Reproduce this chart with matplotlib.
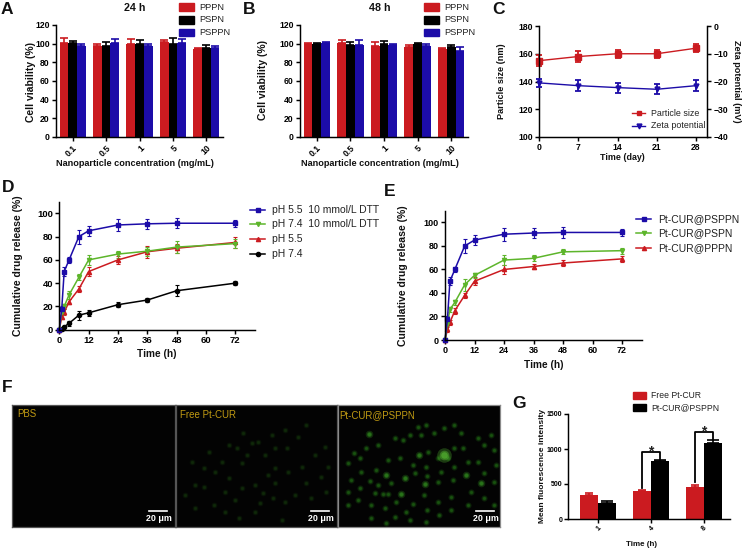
import matplotlib
matplotlib.use("Agg")
import matplotlib.pyplot as plt
import numpy as np

plt.rcParams['font.family'] = ['Liberation Sans', 'DejaVu Sans']
W, H = 742, 550
fig = plt.figure(figsize=(W/100, H/100), dpi=100)
RED, BLACK, BLUE, GREEN = '#CB1B20', '#000000', '#1C0CA8', '#5DB52B'
INK = '#222222'

conc = ['0.1', '0.5', '1', '5', '10']
bar_names = ['PPPN', 'PSPN', 'PSPPN']
a_vals = [[100.5, 97, 100, 101.5, 94.5], [100.5, 98, 100, 100, 95.5], [97, 101, 97, 101, 95]]
a_errs = [[6, 3, 5.5, 2, 1], [2.5, 4, 3.5, 6, 3.5], [2.5, 4.5, 2.5, 4, 2.5]]
b_vals = [[99.5, 101, 98, 96.5, 94.5], [99.5, 98.5, 100, 99.5, 96], [100.5, 98.5, 99, 97.5, 92]]
b_errs = [[0.8, 2.5, 3.5, 2, 1], [1, 3.5, 2.5, 1.5, 2.5], [1, 5, 0.5, 2.5, 4]]

days = [0, 7, 14, 21, 28]
size_vals = [155, 158, 160, 160, 164]
size_errs = [4, 4, 3, 3, 3]
zeta_vals = [-20.5, -21.5, -22.2, -22.8, -21.5]
zeta_errs = [1.5, 2, 1.8, 1.8, 2]

t_hours = [0, 1, 2, 4, 8, 12, 24, 36, 48, 72]
t_ticks = [0, 12, 24, 36, 48, 60, 72]
d_labels = ['pH 5.5  10 mmol/L DTT', 'pH 7.4  10 mmol/L DTT', 'pH 5.5', 'pH 7.4']
d_b = [0, 18, 50, 60, 80, 85, 90, 91, 91.5, 91.5]
d_b_e = [0, 2, 3.5, 2.5, 6, 4.5, 5.5, 4.5, 4.5, 3]
d_g = [0, 15, 20, 30, 45, 60, 65, 67.5, 71, 74]
d_g_e = [0, 2, 2.5, 3.5, 2.5, 4.5, 3, 4, 5.5, 4]
d_r = [0, 11, 15, 24, 35, 50, 60, 67, 70, 75]
d_r_e = [0, 2, 2.5, 2, 2.5, 4, 3.5, 5, 4, 5]
d_k = [0, 0.5, 2.5, 5.5, 12.5, 14.5, 21.5, 25.5, 33.5, 40]
d_k_e = [0, 0.5, 1, 2, 4, 2.5, 2, 2, 4.5, 2]

e_labels = ['Pt-CUR@PSPPN', 'Pt-CUR@PSPN', 'Pt-CUR@PPPN']
e_b = [0, 18, 50, 60, 80, 85, 90, 91, 91.5, 91.5]
e_b_e = [0, 2, 3.5, 2.5, 6, 4.5, 5.5, 4.5, 4.5, 3]
e_g = [0, 14, 26, 32, 47, 55, 68, 69.5, 75, 76]
e_g_e = [0, 2, 2, 2, 5, 2, 4, 2.5, 2, 2.5]
e_r = [0, 9, 15, 25, 38, 50, 60, 62.5, 65.5, 69]
e_r_e = [0, 2, 2, 2.5, 2, 3.5, 3.5, 2.5, 2.5, 2.5]

g_times = ['1', '4', '8']
g_labels = ['Free Pt-CUR', 'Pt-CUR@PSPPN']
g_free = [340, 405, 460]
g_free_e = [35, 15, 22]
g_conj = [235, 825, 1085]
g_conj_e = [22, 25, 40]
g_brackets = [(None, None), (443, 961), (533, 1243)]

f_names = ['PBS', 'Free Pt-CUR', 'Pt-CUR@PSPPN']
f2_x = [180,250,230,270,300,368,335,280,300,200,215,185,85,240,265,255,320,295,330,395,460,440,420,450,380,340,300,160,120,85,60,115,150,190,240,360,410,455,290,330,395,140,100,160,205,50,30,60,200,150]
f2_y = [285,110,115,150,130,95,130,210,235,175,150,130,245,240,265,295,345,280,290,235,185,215,150,125,185,200,190,220,200,190,240,300,320,340,320,270,280,260,90,75,60,170,140,120,85,170,270,310,250,260]
f3_x = [48,65,270,300,330,350,375,470,440,345,300,268,230,150,135,110,225,268,205,175,95,65,40,70,115,150,185,170,120,85,30,240,265,290,320,350,370,420,460,475,420,390,350,310,265,225,440,470,400,340,300,260,250,215,195,160,120,60,100,140,170,215,265,305,340,390,440,470,145,100,30,30]
f3_y = [145,160,140,160,158,130,130,135,120,225,230,212,205,268,268,265,298,315,320,290,228,250,225,200,195,165,160,100,120,130,175,65,60,85,70,60,85,100,90,180,170,170,185,200,185,180,205,230,260,275,290,270,90,90,105,235,240,285,300,310,335,345,350,330,315,300,280,300,355,340,300,260]
f3_bright_x = [145,385,262,190,92,245,430,200]
f3_bright_y = [210,210,237,268,88,150,235,220]
f3_blob_x = [318]
f3_blob_y = [150]

def ax_px(x0, x1, ytop, ybot):
    ax = fig.add_axes([x0/W, 1-ybot/H, (x1-x0)/W, (ybot-ytop)/H])
    ax.patch.set_alpha(0)
    for s in ['top', 'right']:
        ax.spines[s].set_visible(False)
    for s in ['left', 'bottom']:
        ax.spines[s].set_linewidth(1.05)
    ax.tick_params(width=1.05, length=3, labelsize=6.2, pad=1.5)
    return ax

def bold_ticks(ax):
    for t in ax.get_xticklabels() + ax.get_yticklabels():
        t.set_fontweight('bold')

def px_text(x, y, s, **kw):
    kw.setdefault('ha', 'left'); kw.setdefault('va', 'center')
    fig.text(x/W, 1-y/H, s, **kw)

def px_label(x, y, s, size, rotation=0):
    px_text(x, y, s, fontsize=size, fontweight='bold', ha='center', rotation=rotation,
            rotation_mode='anchor', color='#111111')

def px_legend_patch(x0, x1, yc, h, color):
    fig.add_artist(plt.Rectangle((x0/W, 1-(yc+h/2)/H), (x1-x0)/W, h/H, color=color, transform=fig.transFigure))

def bars(x0, x1, vals, errs, title_x, leg_x, name, ylab_x, ylab_y):
    ax = ax_px(x0, x1, 25, 137)
    bw = 8.7 / 33.4
    for i, (v, e, c) in enumerate(zip(vals, errs, [RED, BLACK, BLUE])):
        xs = np.arange(5) + (i-1)*bw
        ax.bar(xs, v, bw, color=c, zorder=2)
        ax.errorbar(xs, v, yerr=[np.zeros(5), e], fmt='none', ecolor=c, elinewidth=1.2, capsize=2.6, capthick=1.2, zorder=2)
    ax.set_xlim(-0.5, 4.5)
    ax.set_ylim(0, 120)
    ax.set_yticks(range(0, 121, 20))
    ax.set_xticks(range(5))
    ax.set_xticklabels(conc, rotation=45, ha='right', rotation_mode='anchor')
    ax.tick_params(axis='x', pad=1.5)
    bold_ticks(ax)
    px_label(ylab_x, ylab_y, 'Cell viability (%)', 7.5, 90)
    px_label(title_x, 164, 'Nanoparticle concentration (mg/mL)', 6.6)
    px_label(title_x, 8, name, 7.7)
    for lab, c, y in zip(bar_names, [RED, BLACK, BLUE], [7, 20, 32.5]):
        px_legend_patch(leg_x, leg_x+14.5, y, 7.5, c)
        px_text(leg_x+20, y, lab, fontsize=6.7, color=INK)
    return ax

bars(56, 223, a_vals, a_errs, 135, 179, '24 h', 31, 81.7)
bars(300, 468, b_vals, b_errs, 380, 424, '48 h', 262.7, 80.3)

# C
ax = ax_px(539, 707, 26, 137)
ax.errorbar(days, size_vals, yerr=size_errs, color=RED, marker='s', ms=4, lw=1, capsize=2.5, elinewidth=1.3, capthick=1.3, clip_on=False)
ax.set_xlim(0, 28*168/157)
ax.set_ylim(100, 180)
ax.set_xticks(days)
ax.set_yticks(range(100, 181, 20))
bold_ticks(ax)
px_label(622.7, 157.7, 'Time (day)', 6.4)
px_label(501.7, 81, 'Particle size (nm)', 6.6, 90)
ax2 = ax.twinx()
ax2.patch.set_alpha(0)
for s in ['top', 'left', 'bottom']:
    ax2.spines[s].set_visible(False)
ax2.spines['right'].set_linewidth(1.05)
ax2.errorbar(days, zeta_vals, yerr=zeta_errs, color=BLUE, marker='v', ms=3.5, lw=1, capsize=2.5, elinewidth=1.3, capthick=1.3, clip_on=False)
ax2.set_ylim(-40, 0)
ax2.set_yticks(range(-40, 1, 10))
ax2.tick_params(width=1.05, length=3, labelsize=6.2, pad=1.5)
bold_ticks(ax2)
px_label(736, 81, 'Zeta potential (mV)', 6.6, 270)
for lab, c, m, y in [('Particle size', RED, 's', 113), ('Zeta potential', BLUE, 'v', 125.7)]:
    fig.add_artist(plt.Line2D([632/W, 645/W], [1-y/H]*2, color=c, lw=1, transform=fig.transFigure))
    fig.add_artist(plt.Line2D([638.5/W], [1-y/H], color=c, marker=m, ms=3.5, transform=fig.transFigure))
    px_text(651, y, lab, fontsize=6.4, color=INK)

def release(x0, x1, ytop, ybot, series, labels, leg_x, leg_ys, text_x, fs, ylab, xlab, tick_fs):
    ax = ax_px(x0, x1, ytop, ybot)
    for (v, e, c, m, ms) in series:
        ax.errorbar(t_hours, v, yerr=e, color=c, marker=m, ms=ms, lw=1.1, capsize=1.6, elinewidth=0.8, capthick=0.8, clip_on=False)
    ax.set_xlim(0, 80)
    ax.set_ylim(0, 110)
    ax.set_xticks(t_ticks)
    ax.set_yticks(range(0, 101, 20))
    ax.tick_params(labelsize=tick_fs)
    bold_ticks(ax)
    px_label(xlab[0], xlab[1], 'Time (h)', 7.3)
    px_label(ylab[0], ylab[1], 'Cumulative drug release (%)', 7.6, 90)
    for lab, s, y in zip(labels, series, leg_ys):
        c, m = s[2], s[3]
        fig.add_artist(plt.Line2D([leg_x/W, (leg_x+15)/W], [1-y/H]*2, color=c, lw=1.1, transform=fig.transFigure))
        fig.add_artist(plt.Line2D([(leg_x+7.5)/W], [1-y/H], color=c, marker=m, ms=3, transform=fig.transFigure))
        px_text(text_x, y, lab, fontsize=fs, color=INK)

release(59.3, 255, 201.7, 329.7,
        [(d_k, d_k_e, BLACK, 'o', 3), (d_r, d_r_e, RED, '^', 3), (d_g, d_g_e, GREEN, 'v', 3), (d_b, d_b_e, BLUE, 's', 3)],
        [d_labels[3], d_labels[2], d_labels[1], d_labels[0]], 250, [254, 239, 224, 210], 272, 7.5, (18, 265.5), (157, 354), 6.8)
release(445, 641.7, 210.7, 340,
        [(e_r, e_r_e, RED, '^', 3), (e_g, e_g_e, GREEN, 'v', 3), (e_b, e_b_e, BLUE, 's', 3)],
        [e_labels[2], e_labels[1], e_labels[0]], 636, [248, 233, 219], 658, 7.5, (403, 275.5), (544, 365), 6.5)

# G
ax = ax_px(568, 730, 414, 519)
gx = np.arange(3)
bw = 0.34
ax.bar(gx-bw/2, g_free, bw, color=RED)
ax.bar(gx+bw/2, g_conj, bw, color=BLACK)
ax.errorbar(gx-bw/2, g_free, yerr=[[0]*3, g_free_e], fmt='none', ecolor=RED, elinewidth=1.2, capsize=3, capthick=1.2)
ax.errorbar(gx+bw/2, g_conj, yerr=[[0]*3, g_conj_e], fmt='none', ecolor=BLACK, elinewidth=1.2, capsize=4, capthick=1.2)
ax.set_xlim(-0.56, 2.5)
ax.set_ylim(0, 1500)
ax.set_xticks(gx)
ax.set_xticklabels(g_times, rotation=45, ha='right', rotation_mode='anchor')
ax.set_yticks([0, 500, 1000, 1500])
ax.tick_params(labelsize=5, length=2.6)
bold_ticks(ax)
px_label(642, 544, 'Time (h)', 5.8)
px_label(543, 466, 'Mean fluorescence intensity', 6, 90)
for i, (lo, hi) in enumerate(g_brackets):
    if lo is None:
        continue
    xl, xr = i-bw/2, i+bw/2
    ax.plot([xl, xl, xr, xr], [lo, hi, hi, g_conj[i]+g_conj_e[i]], color='k', lw=1.3, clip_on=False)
    ax.text(i, hi+8, '*', ha='center', va='center', fontsize=10, fontweight='bold', color='#222222')
for lab, c, y in zip(g_labels, [RED, BLACK], [395.7, 407.7]):
    px_legend_patch(632.7, 645.7, y, 7, c)
    px_text(651, y, lab, fontsize=6.2, color=INK)

# Panel letters
for s, x, y in [('A', 1, 9), ('B', 243, 9), ('C', 492, 9), ('D', 2, 187), ('E', 384, 192), ('F', 2, 388), ('G', 512, 403)]:
    px_text(x, y, s, fontsize=12.5, fontweight='bold', color='#111111')

# F micrographs
panels = [(12, 174.5), (175.5, 337), (338, 500)]
def glow(a, xs, ys, color, size, alpha):
    a.scatter(xs, ys, s=size*5.0, color=color, alpha=alpha*0.3, linewidths=0)
    a.scatter(xs, ys, s=size*2.2, color=color, alpha=alpha*0.45, linewidths=0)
    a.scatter(xs, ys, s=size, color=color, alpha=alpha*0.6, linewidths=0)

for i, (x0, x1) in enumerate(panels):
    a = fig.add_axes([x0/W, 1-526.7/H, (x1-x0)/W, (526.7-405)/H])
    a.set_facecolor('#030303'); a.set_xticks([]); a.set_yticks([])
    a.set_xlim(0, 487); a.set_ylim(365, 0)
    for s in a.spines.values():
        s.set_color('#555555' if i < 2 else '#8a8a8a'); s.set_linewidth(0.9)
    if i == 1:
        glow(a, f2_x, f2_y, '#14380c', 3.5, 0.8)
    if i == 2:
        glow(a, f3_x, f3_y, '#1f6a14', 4, 0.85)
        glow(a, f3_bright_x, f3_bright_y, '#33901f', 6, 0.9)
        glow(a, f3_blob_x, f3_blob_y, '#55b832', 22, 1)

for name, x, y in zip(f_names, [17, 179.5, 339], [414, 414.5, 415.5]):
    px_text(x, y, name, fontsize=7, color='#C09A12')
for xa, xb, xc in [(149, 167, 158.7), (311, 329, 321), (476, 494, 486)]:
    fig.add_artist(plt.Line2D([xa/W, xb/W], [1-511/H]*2, color='white', lw=1.2, transform=fig.transFigure))
    px_text(xc, 518.5, '20 μm', fontsize=6.4, fontweight='bold', color='white', ha='center')

fig.savefig('out.png', dpi=100)
